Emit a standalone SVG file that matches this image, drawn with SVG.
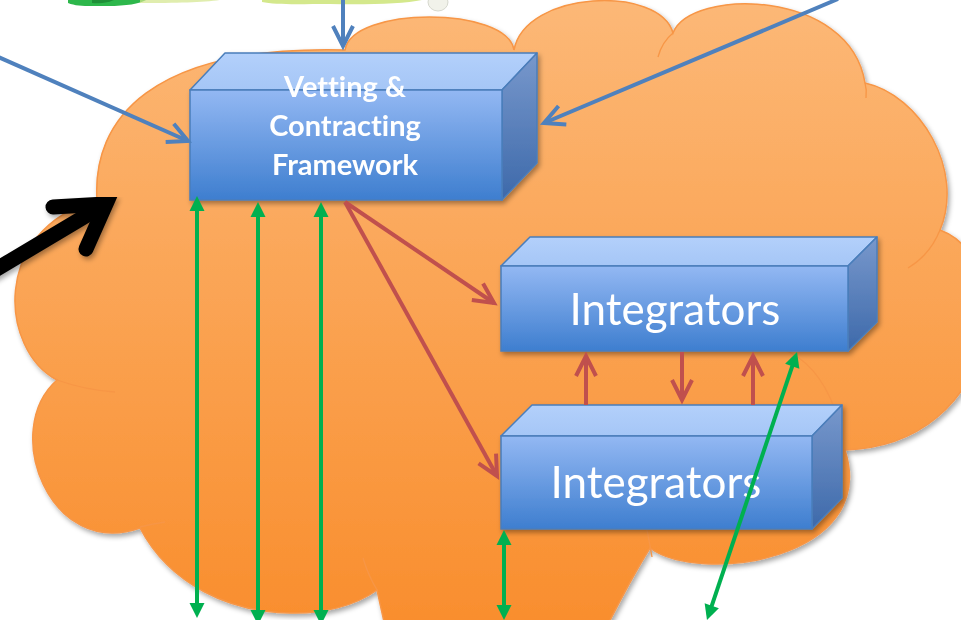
<svg xmlns="http://www.w3.org/2000/svg" width="961" height="620" viewBox="0 0 961 620">
  <defs>
    <linearGradient id="cloudFill" x1="0" y1="0" x2="0" y2="620" gradientUnits="userSpaceOnUse">
      <stop offset="0" stop-color="#FCB877"/>
      <stop offset="1" stop-color="#F98E2E"/>
    </linearGradient>
    <linearGradient id="front" x1="0" y1="0" x2="0" y2="1">
      <stop offset="0" stop-color="#93B8F3"/>
      <stop offset="1" stop-color="#3E7ECF"/>
    </linearGradient>
    <linearGradient id="topFace" x1="0" y1="0" x2="0" y2="1">
      <stop offset="0" stop-color="#B3D0FB"/>
      <stop offset="1" stop-color="#A5C6F6"/>
    </linearGradient>
    <linearGradient id="side" x1="0" y1="0" x2="0" y2="1">
      <stop offset="0" stop-color="#7898CC"/>
      <stop offset="1" stop-color="#3D69AA"/>
    </linearGradient>
    <filter id="shadow" x="-10%" y="-10%" width="130%" height="130%">
      <feDropShadow dx="2" dy="3" stdDeviation="2.5" flood-color="#000" flood-opacity="0.35"/>
    </filter>
    <marker id="chevBlue" markerUnits="userSpaceOnUse" viewBox="-26 -16 34 32" refX="0" refY="0" markerWidth="34" markerHeight="32" orient="auto" overflow="visible">
      <path d="M-20 -10 L0 0 L-20 10" fill="none" stroke="#4F81BD" stroke-width="4"/>
    </marker>
    <marker id="chevRed" markerUnits="userSpaceOnUse" viewBox="-26 -16 34 32" refX="0" refY="0" markerWidth="34" markerHeight="32" orient="auto" overflow="visible">
      <path d="M-20 -10 L0 0 L-20 10" fill="none" stroke="#C0504D" stroke-width="4"/>
    </marker>
    <marker id="triGreen" markerUnits="userSpaceOnUse" viewBox="-4 -8 17 16" refX="0" refY="0" markerWidth="17" markerHeight="16" orient="auto-start-reverse" overflow="visible">
      <path d="M-3 -7.5 L12 0 L-3 7.5 Z" fill="#00B050"/>
    </marker>
  </defs>
  <style>
    .cloud { fill: url(#cloudFill); stroke: #F79646; stroke-width: 1.5; }
    .inner { fill: none; stroke: #F79646; stroke-width: 1.3; }
    .front { fill: url(#front); stroke: #4A7EBB; stroke-width: 1.5; }
    .topf { fill: url(#topFace); stroke: #4A7EBB; stroke-width: 1.5; stroke-linejoin: round; }
    .side { fill: url(#side); stroke: #4A7EBB; stroke-width: 1.5; stroke-linejoin: round; }
    .blue { fill: none; stroke: #4F81BD; stroke-width: 4; marker-end: url(#chevBlue); }
    .red { fill: none; stroke: #C0504D; stroke-width: 4; marker-end: url(#chevRed); }
    .green { fill: none; stroke: #00B050; stroke-width: 4; marker-start: url(#triGreen); marker-end: url(#triGreen); }
    text { font-variant-ligatures: none; font-feature-settings: "liga" 0, "clig" 0; }
    .lbl-b { font-family: Lato, "Open Sans", "Liberation Sans", sans-serif; font-weight: bold; font-size: 29px; fill: #FFFFFF; text-anchor: middle; }
    .lbl { font-family: Lato, "Open Sans", "Liberation Sans", sans-serif; font-size: 44px; fill: #FFFFFF; text-anchor: middle; }
  </style>

  <!-- painted strip at the top edge -->
  <g id="top-paint">
    <path d="M68 -4 L150 -4 C148 2, 132 6, 108 6 C90 6, 78 7, 68 3 Z" fill="#2DB74B"/>
    <path d="M92 -4 L118 -4 C116 1, 106 4, 92 3 Z" fill="#1E8F37"/>
    <path d="M140 -4 L232 -4 C225 2, 190 3, 140 3 Z" fill="#D3E68C" opacity="0.7"/>
    <path d="M262 -4 L432 -4 C425 3, 380 5, 330 4 C300 4, 275 5, 262 2 Z" fill="#D4E88C"/>
    <ellipse cx="438" cy="2" rx="10" ry="9" fill="#F1F2EA" stroke="#D6D8CE" stroke-width="1"/>
  </g>

  <!-- cloud -->
  <g id="cloud" filter="url(#shadow)">
    <path class="cloud" d="M97 200 C92 120, 150 45, 345 50 C352 6, 507 6, 514 50 C525 -10, 660 -15, 673 33 C690 -12, 850 -12, 865 83 C920 95, 965 170, 940 230 C1020 260, 1000 445, 845 450 C880 560, 700 585, 650 548 C630 580, 615 610, 600 640 L388 640 L377 590 C355 606, 322 614, 290 613 C230 612, 170 585, 140 528 C50 560, 0 430, 57 380 C0 350, -10 230, 97 200 Z"/>
  </g>
  <g id="cloud-inner">
    <path class="inner" d="M673 33 Q662 42 658 57"/>
    <path class="inner" d="M865 83 Q867 90 866 98"/>
    <path class="inner" d="M940 230 Q930 255 908 268"/>
    <path class="inner" d="M780 348 Q818 362 835 410"/>
    <path class="inner" d="M647 530 Q650 545 652 557"/>
    <path class="inner" d="M363 558 Q368 575 377 590"/>
    <path class="inner" d="M140 527 Q152 524 165 522"/>
    <path class="inner" d="M57 380 Q85 390 115 392"/>
  </g>

  <!-- black pointer arrow -->
  <g id="black-arrow" filter="url(#shadow)">
    <path d="M-10 273 L104 205" fill="none" stroke="#000" stroke-width="15" stroke-linecap="round"/>
    <path d="M53 207 L106 204 L86 249" fill="none" stroke="#000" stroke-width="15" stroke-linecap="round" stroke-linejoin="miter"/>
  </g>

  <!-- node: Vetting & Contracting Framework -->
  <g id="node-vetting" filter="url(#shadow)">
    <polygon class="topf" points="190,90 225,53 537,53 502,90"/>
    <polygon class="side" points="502,90 537,53 537,163 502,200"/>
    <rect class="front" x="190" y="90" width="312" height="110"/>
    <text class="lbl-b" x="345" y="97">Vetting &amp;</text>
    <text class="lbl-b" x="345" y="136">Contracting</text>
    <text class="lbl-b" x="345" y="175">Framework</text>
  </g>

  <!-- node: Integrators (upper) -->
  <g id="node-integrators-1" filter="url(#shadow)">
    <polygon class="topf" points="501,266 530,237 877,237 848,266"/>
    <polygon class="side" points="848,266 877,237 877,322 848,351"/>
    <rect class="front" x="501" y="266" width="347" height="85"/>
    <text class="lbl" x="675" y="325">Integrators</text>
  </g>

  <!-- node: Integrators (lower) -->
  <g id="node-integrators-2" filter="url(#shadow)">
    <polygon class="topf" points="501,436 532,405 842,405 812,436"/>
    <polygon class="side" points="812,436 842,405 842,498 812,529"/>
    <rect class="front" x="501" y="436" width="311" height="93"/>
    <text class="lbl" x="656" y="498">Integrators</text>
  </g>

  <!-- connectors -->
  <g id="connectors">
    <path class="blue" d="M343 -2 L343 46"/>
    <path class="blue" d="M-4 56 L188 141"/>
    <path class="blue" d="M838 -1 L544 123"/>

    <path class="red" d="M345 202 L494 303"/>
    <path class="red" d="M345 202 L497 476"/>
    <path class="red" d="M586 405 L586 356"/>
    <path class="red" d="M682 352 L682 400"/>
    <path class="red" d="M753 405 L753 356"/>

    <path class="green" d="M197 208 L197 606"/>
    <path class="green" d="M258 214 L258 613"/>
    <path class="green" d="M321 214 L321 613"/>
    <path class="green" d="M504 542 L504 608"/>
    <path class="green" d="M793.2 363.4 L710.8 608.6"/>
  </g>
</svg>
